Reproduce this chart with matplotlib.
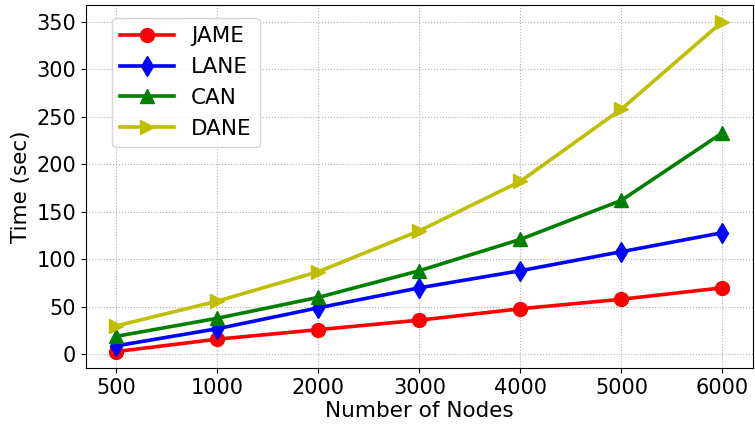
import numpy as np
import matplotlib
matplotlib.use("Agg")
import matplotlib.pyplot as plt

# Data
nodes = ["500", "1000", "2000", "3000", "4000", "5000", "6000"]
jame = [3, 16, 26, 36, 48, 58, 70]
lane = [9, 27, 49, 70, 88, 108, 128]
can = [19, 38, 60, 88, 121, 162, 233]
dane = [30, 56, 87, 130, 182, 258, 350]

x = np.arange(len(nodes))

fig, ax = plt.subplots(figsize=(7.55, 4.24), dpi=100)
fig.subplots_adjust(left=0.114, right=0.997, bottom=0.132, top=0.988)

ax.plot(x, jame, "r-o", lw=2.6, ms=10, label="JAME")
ax.plot(x, lane, "b-d", lw=2.6, ms=10, label="LANE")
ax.plot(x, can, "g-^", lw=2.6, ms=10, label="CAN")
ax.plot(x, dane, "y->", lw=2.6, ms=10, label="DANE")

ax.set_xticks(x)
ax.set_xticklabels(nodes)
ax.tick_params(labelsize=15)
ax.set_xlabel("Number of Nodes", fontsize=15.5, labelpad=2)
ax.set_ylabel("Time (sec)", fontsize=15.5)
ax.grid(True, linestyle=":", color="#b0b0b0")
ax.legend(fontsize=15.5, loc="upper left", handlelength=2.5,
          bbox_to_anchor=(0.022, 0.995))

fig.savefig("out.png", dpi=100)
